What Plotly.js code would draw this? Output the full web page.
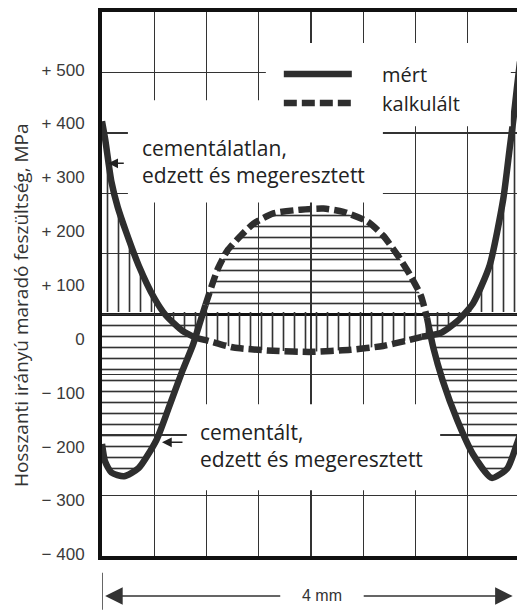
<!DOCTYPE html>
<html>
<head>
<meta charset="utf-8">
<script src="https://cdn.plot.ly/plotly-3.0.1.min.js"></script>
<style>
html,body{margin:0;padding:0;overflow:hidden;background:#fff;}
#chart{width:521px;height:610px;}
</style>
</head>
<body>
<div id="chart"></div>
<script>
// ---- data (x: mm across the section, y: MPa as read on the printed scale) ----
const baselineMPa = 50;   // thick zero-stress line, read on the printed scale

// cementálatlan (uncarburized): measured near surfaces, calculated in the core
const uncarbMeasLeftX  = [0.00, 0.03, 0.09, 0.15, 0.23, 0.35, 0.50, 0.61, 0.77, 0.90];
const uncarbMeasLeftY  = [404, 371, 292, 245, 199, 137, 76, 44, 15, 2];
const uncarbCalcX      = [0.90, 1.01, 1.26, 1.64, 2.00, 2.38, 2.69, 2.92, 3.06];
const uncarbCalcY      = [2, -3, -16, -22, -24, -20, -13, -3, 4];
const uncarbMeasRightX = [3.06, 3.24, 3.40, 3.55, 3.71, 3.84, 3.90, 3.94, 3.97, 4.00];
const uncarbMeasRightY = [4, 11, 33, 66, 137, 260, 352, 413, 465, 515];

// cementált (carburized)
const carbMeasLeftX  = [0.00, 0.03, 0.09, 0.21, 0.35, 0.52, 0.64, 0.77, 0.87, 0.93, 0.99];
const carbMeasLeftY  = [-195, -228, -248, -255, -240, -188, -127, -59, -11, 26, 63];
const carbCalcX      = [0.99, 1.11, 1.20, 1.33, 1.45, 1.64, 1.90, 2.12, 2.31, 2.54, 2.69, 2.83, 2.95, 3.05, 3.11];
const carbCalcY      = [63, 131, 164, 192, 214, 233, 240, 242, 236, 218, 192, 155, 118, 81, 39];
const carbMeasRightX = [3.11, 3.17, 3.26, 3.40, 3.55, 3.73, 3.88, 3.97, 4.00];
const carbMeasRightY = [39, -16, -77, -151, -214, -258, -240, -195, -178];

const yTickVals = [-400, -300, -200, -100, 0, 100, 200, 300, 400, 500];
const yTickText = ['\u2212 400', '\u2212 300', '\u2212 200', '\u2212 100', '0', '+ 100', '+ 200', '+ 300', '+ 400', '+ 500'];

const legendMeasured = '\u2003\u00a0mért';
const legendCalculated = '\u2003\u00a0kalkulált';
const labelUncarb = 'cementálatlan,<br>edzett és megeresztett';
const labelCarb = 'cementált,<br>edzett és megeresztett';
const yTitle = 'Hosszanti irányú maradó feszültség, MPa';
const spanLabel = '4 mm';
const xSpan = [0, 4];

// ---- styling ----
const curveColor = '#2e2e2e';
const curveWidth = 6.5;
const dashStyle = '13px,5px';
const gridColor = '#333';
const hatchColor = '#333';

const baseX = [xSpan[0], xSpan[1]];
const baseY = [baselineMPa, baselineMPa];

function hidden(x, y) {
  return {x: x, y: y, mode: 'lines', line: {width: 0, color: 'rgba(0,0,0,0)'},
          showlegend: false, hoverinfo: 'skip'};
}
function hatch(x, y, shape) {
  return {x: x, y: y, mode: 'lines', fill: 'tonexty', fillcolor: 'rgba(0,0,0,0)',
          fillpattern: {shape: shape, size: 11, solidity: 0.15, fgcolor: hatchColor,
                        bgcolor: 'rgba(0,0,0,0)', fillmode: 'replace'},
          line: {width: 0, color: 'rgba(0,0,0,0)'}, showlegend: false, hoverinfo: 'skip'};
}
function curve(x, y, dashed, name, show) {
  return {x: x, y: y, mode: 'lines', name: name, showlegend: show,
          legendgroup: dashed ? 'calc' : 'meas',
          line: {color: curveColor, width: curveWidth, dash: dashed ? dashStyle : 'solid', shape: 'spline', smoothing: 0.6},
          hoverinfo: 'skip'};
}

const uncarbAllX = uncarbMeasLeftX.concat(uncarbCalcX, uncarbMeasRightX);
const uncarbAllY = uncarbMeasLeftY.concat(uncarbCalcY, uncarbMeasRightY);
const carbAllX = carbMeasLeftX.concat(carbCalcX, carbMeasRightX);
const carbAllY = carbMeasLeftY.concat(carbCalcY, carbMeasRightY);

const traces = [
  hidden(baseX, baseY),
  hatch(uncarbAllX, uncarbAllY, '|'),
  hidden(baseX, baseY),
  hatch(carbAllX, carbAllY, '-'),
  curve(uncarbMeasLeftX, uncarbMeasLeftY, false, legendMeasured, true),
  curve(uncarbCalcX, uncarbCalcY, true, legendCalculated, true),
  curve(uncarbMeasRightX, uncarbMeasRightY, false, legendMeasured, false),
  curve(carbMeasLeftX, carbMeasLeftY, false, legendMeasured, false),
  curve(carbCalcX, carbCalcY, true, legendCalculated, false),
  curve(carbMeasRightX, carbMeasRightY, false, legendMeasured, false),
  {x: [xSpan[0]], y: [0], yaxis: 'y2', mode: 'markers', marker: {opacity: 0}, showlegend: false, hoverinfo: 'skip'}
];

const white = {type: 'rect', xref: 'paper', yref: 'paper', layer: 'above', fillcolor: '#fff', line: {width: 0}};

const layout = {
  width: 521, height: 610,
  margin: {l: 102, r: 1, t: 12, b: 54},
  paper_bgcolor: '#fff', plot_bgcolor: '#fff',
  hovermode: false,
  font: {family: 'Open Sans, sans-serif', color: '#222'},
  xaxis: {range: xSpan, tick0: 0, dtick: 0.5, showticklabels: false, ticks: '',
          showgrid: true, gridcolor: gridColor, gridwidth: 1.3, zeroline: false,
          showline: true, linecolor: '#111', linewidth: 4, mirror: true, fixedrange: true},
  yaxis: {range: [-403, 607], tickvals: yTickVals, ticktext: yTickText, ticks: '',
          ticklabelstandoff: 10,
          tickfont: {family: 'Liberation Sans Narrow, Liberation Sans, Arial, sans-serif', size: 17, color: '#3a3a3a'},
          showgrid: false, zeroline: false, showline: true, linecolor: '#111', linewidth: 4, mirror: true,
          fixedrange: true},
  yaxis2: {overlaying: 'y', range: [-400, 500], dtick: 100, tick0: 0, showticklabels: false, ticks: '',
           showgrid: true, gridcolor: gridColor, gridwidth: 1.3,
           zeroline: true, zerolinecolor: '#111', zerolinewidth: 3, showline: false, fixedrange: true},
  showlegend: true,
  legend: {x: 0.423, y: 0.922, xanchor: 'left', yanchor: 'top', bgcolor: 'rgba(0,0,0,0)',
           font: {family: 'Open Sans, sans-serif', size: 20, color: '#222'},
           itemwidth: 68, tracegroupgap: 0, traceorder: 'normal'},
  shapes: [
    Object.assign({x0: 0.392, x1: 0.978, y0: 0.790, y1: 0.943}, white),
    Object.assign({x0: 0.062, x1: 0.672, y0: 0.650, y1: 0.838}, white),
    Object.assign({x0: 0.203, x1: 0.809, y0: 0.121, y1: 0.279}, white),
    {type: 'line', xref: 'x', yref: 'paper', x0: xSpan[0], x1: xSpan[0], y0: -0.031, y1: -0.099,
     line: {color: '#333', width: 1.5}}
  ],
  annotations: [
    {text: yTitle, xref: 'paper', yref: 'paper', x: -0.194, y: 0.461, xanchor: 'center', yanchor: 'middle',
     textangle: -90, showarrow: false, font: {family: 'Open Sans, sans-serif', size: 19, color: '#333'}},
    {text: labelUncarb, xref: 'paper', yref: 'paper', x: 0.091, y: 0.725, xanchor: 'left', yanchor: 'middle',
     align: 'left', showarrow: false, font: {size: 21, color: '#222'}},
    {text: labelCarb, xref: 'paper', yref: 'paper', x: 0.230, y: 0.203, xanchor: 'left', yanchor: 'middle',
     align: 'left', showarrow: false, font: {size: 21, color: '#222'}},
    {text: '', xref: 'x', yref: 'y', x: 0.06, y: 326, ax: 17, ay: 0, showarrow: true,
     arrowhead: 2, arrowsize: 1.3, arrowwidth: 1.5, arrowcolor: '#222'},
    {text: '', xref: 'x', yref: 'y', x: 0.574, y: -192, ax: 22, ay: 0, showarrow: true,
     arrowhead: 2, arrowsize: 1.3, arrowwidth: 1.5, arrowcolor: '#222'},
    {text: spanLabel, xref: 'x', yref: 'paper', x: 2.105, y: -0.0735, xanchor: 'center', yanchor: 'middle',
     showarrow: false, font: {family: 'Liberation Sans, Arial, sans-serif', size: 16, color: '#333'}},
    {text: '', xref: 'x', yref: 'paper', x: 0.03, y: -0.0735, axref: 'x', ax: 1.72, ay: 0, showarrow: true,
     arrowhead: 2, arrowsize: 2.7, arrowwidth: 1.3, arrowcolor: '#333'},
    {text: '', xref: 'x', yref: 'paper', x: 3.93, y: -0.0735, axref: 'x', ax: 2.49, ay: 0, showarrow: true,
     arrowhead: 2, arrowsize: 2.7, arrowwidth: 1.3, arrowcolor: '#333'}
  ]
};

Plotly.newPlot('chart', traces, layout, {staticPlot: true, displayModeBar: false});
</script>
</body>
</html>
